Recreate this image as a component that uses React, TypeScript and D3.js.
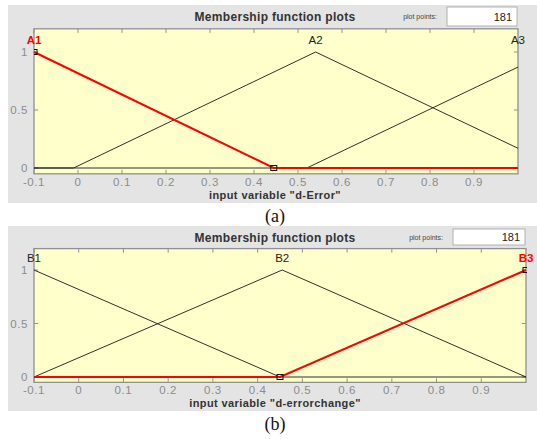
import React from "react";
import * as d3 from "d3";

// x ticks shared by both panels
const xTickValues = [-0.1, 0, 0.1, 0.2, 0.3, 0.4, 0.5, 0.6, 0.7, 0.8, 0.9];
const xTickLabels = ["-0.1", "0", "0.1", "0.2", "0.3", "0.4", "0.5", "0.6", "0.7", "0.8", "0.9"];
const yTickValues = [0, 0.5, 1];
const yTickLabels = ["0", "0.5", "1"];

// membership functions, vertices [x, mu]
const mfNamesA = ["A1", "A2", "A3"];
const mfPeaksA = [-0.1, 0.54, 1.0];
const mfA1 = [[-0.1, 1], [0.445, 0], [1, 0]];
const mfA2 = [[-0.1, 0], [-0.01, 0], [0.54, 1], [1, 0.17]];
const mfA3 = [[-0.1, 0], [0.52, 0], [1, 0.87]];
const selectedA = 0;
const markersA = [[-0.1, 1], [0.445, 0]];

const mfNamesB = ["B1", "B2", "B3"];
const mfPeaksB = [-0.1, 0.455, 1.0];
const mfB1 = [[-0.1, 1], [0.45, 0], [1, 0]];
const mfB2 = [[-0.1, 0], [0.455, 1], [1, 0]];
const mfB3 = [[-0.1, 0], [0.45, 0], [1, 1]];
const selectedB = 2;
const markersB = [[0.45, 0], [1, 1]];

const plotPoints = "181";

const FONT = "'Liberation Sans', Arial, sans-serif";

interface PanelProps {
  id: string;
  top: number;
  height: number;
  left: number;
  right: number;
  y0: number;
  y1: number;
  title: string;
  xlabel: string;
  names: string[];
  peaks: number[];
  mfs: number[][][];
  selected: number;
  markers: number[][];
  boxLeft: number;
  boxRight: number;
  boxTop: number;
  boxBottom: number;
}

const Panel: React.FC<PanelProps> = (p) => {
  const x = d3.scaleLinear().domain([-0.1, 1]).range([p.left, p.right]);
  const y = d3.scaleLinear().domain([0, 1]).range([p.y0, p.y1]);
  const yTop = y(1.2);
  const yBot = y(-0.05);
  const line = d3.line<number[]>().x(d => x(d[0])).y(d => y(d[1]));
  const titleY = p.top + 16;
  const tickLabelY = yBot + 12;

  // unselected first, selected one on top
  const order = p.mfs.map((_, i) => i).filter(i => i !== p.selected).concat([p.selected]);

  return (
    <g>
      <defs>
        <clipPath id={p.id}>
          <rect x={p.left} y={yTop} width={p.right - p.left + 1} height={yBot - yTop} />
        </clipPath>
      </defs>
      <rect x={8} y={p.top} width={529} height={p.height} fill="#e4e4e4" />
      <text x={275} y={titleY} textAnchor="middle" fontFamily={FONT} fontSize={12} fontWeight="bold" fill="#333" letterSpacing={0.3}>
        {p.title}
      </text>
      <text x={p.boxLeft - 10} y={titleY - 2} textAnchor="end" fontFamily={FONT} fontSize={7} fill="#444">
        plot points:
      </text>
      <rect x={p.boxLeft} y={p.boxTop} width={p.boxRight - p.boxLeft} height={p.boxBottom - p.boxTop}
        fill="#fff" stroke="#b0b0b0" strokeWidth={1} />
      <text x={p.boxRight - 5} y={(p.boxTop + p.boxBottom) / 2 + 4} textAnchor="end" fontFamily={FONT} fontSize={11} fill="#222">
        {plotPoints}
      </text>

      {/* plot area */}
      <rect x={p.left} y={yTop} width={p.right - p.left} height={yBot - yTop} fill="#ffffcc" stroke="#909090" strokeWidth={1.3} />

      {/* ticks, pointing inward */}
      {xTickValues.map(v => (
        <g key={"xt" + v}>
          <line x1={x(v)} x2={x(v)} y1={yBot} y2={yBot - 4} stroke="#909090" />
          <line x1={x(v)} x2={x(v)} y1={yTop} y2={yTop + 4} stroke="#909090" />
        </g>
      ))}
      {yTickValues.map(v => (
        <g key={"yt" + v}>
          <line x1={p.left} x2={p.left + 4} y1={y(v)} y2={y(v)} stroke="#909090" />
          <line x1={p.right} x2={p.right - 4} y1={y(v)} y2={y(v)} stroke="#909090" />
        </g>
      ))}
      {xTickValues.map((v, i) => (
        <text key={"xl" + v} x={x(v)} y={tickLabelY} textAnchor="middle" fontFamily={FONT} fontSize={11.5} fill="#8c8c8c" letterSpacing={0.6}>
          {xTickLabels[i]}
        </text>
      ))}
      {yTickValues.map((v, i) => (
        <text key={"yl" + v} x={p.left - 6} y={y(v) + 4} textAnchor="end" fontFamily={FONT} fontSize={11.5} fill="#8c8c8c" letterSpacing={0.6}>
          {yTickLabels[i]}
        </text>
      ))}

      {/* membership functions */}
      {order.map(i => (
        <path key={"mf" + i} d={line(p.mfs[i]) || ""} fill="none"
          stroke={i === p.selected ? "#ff0000" : "#1a1a1a"}
          strokeWidth={i === p.selected ? 2 : 0.9} />
      ))}
      <g clipPath={`url(#${p.id})`}>
        {p.markers.map((m, i) => (
          <rect key={"mk" + i} x={x(m[0]) - 3} y={y(m[1]) - 2.5} width={6} height={5}
            fill="none" stroke="#111" strokeWidth={1} />
        ))}
      </g>
      {p.names.map((n, i) => (
        <text key={"nm" + n} x={x(p.peaks[i])} y={y(1) - 8} textAnchor="middle" fontFamily={FONT} fontSize={11.5}
          fontWeight={i === p.selected ? "bold" : "normal"}
          fill={i === p.selected ? "#ff0000" : "#222"}>
          {n}
        </text>
      ))}

      <text x={275} y={tickLabelY + 13} textAnchor="middle" fontFamily={FONT} fontSize={11} fontWeight="bold" fill="#333" letterSpacing={0.4}>
        {p.xlabel}
      </text>
    </g>
  );
};

export default function App() {
  return (
    <svg width={537} height={439} style={{ position: "absolute", left: 0, top: 0, background: "#fff" }}>
      <Panel id="clipA" top={5} height={198} left={34} right={518} y0={168} y1={52}
        title="Membership function plots" xlabel={'input variable "d-Error"'}
        names={mfNamesA} peaks={mfPeaksA} mfs={[mfA1, mfA2, mfA3]} selected={selectedA} markers={markersA}
        boxLeft={447} boxRight={517} boxTop={7} boxBottom={26} />
      <text x={275} y={222} textAnchor="middle" fontFamily="'Liberation Serif', 'Times New Roman', serif" fontSize={18} fill="#111">(a)</text>
      <Panel id="clipB" top={226} height={185} left={34} right={526} y0={377} y1={270}
        title="Membership function plots" xlabel={'input variable "d-errorchange"'}
        names={mfNamesB} peaks={mfPeaksB} mfs={[mfB1, mfB2, mfB3]} selected={selectedB} markers={markersB}
        boxLeft={453} boxRight={525} boxTop={229} boxBottom={245} />
      <text x={275} y={430} textAnchor="middle" fontFamily="'Liberation Serif', 'Times New Roman', serif" fontSize={18} fill="#111">(b)</text>
    </svg>
  );
}
